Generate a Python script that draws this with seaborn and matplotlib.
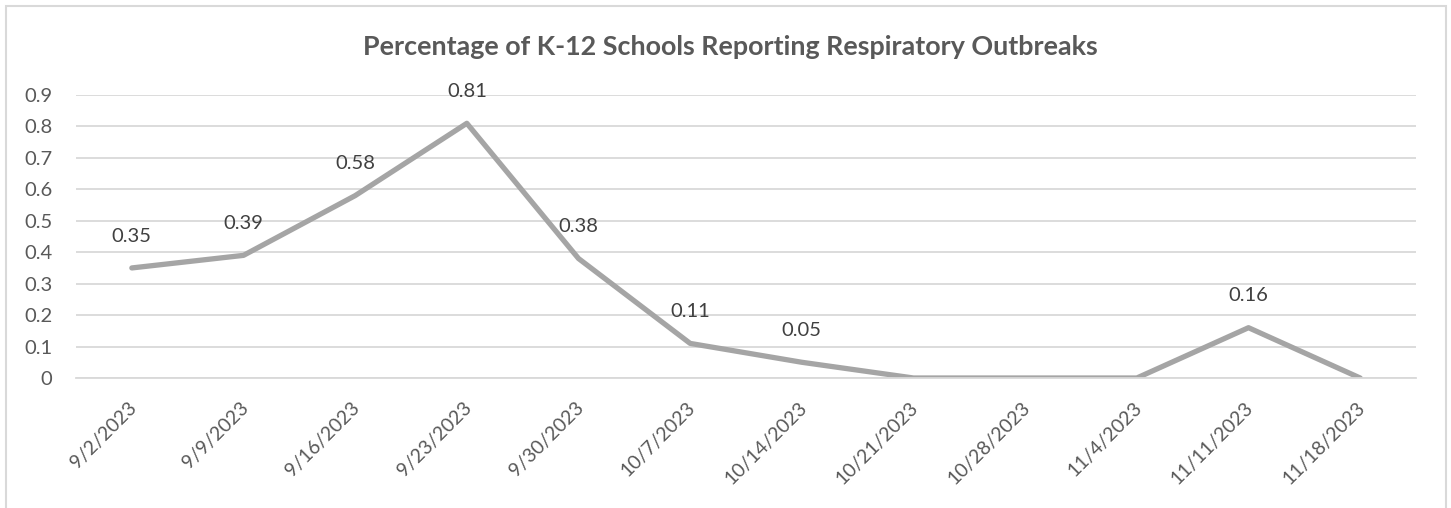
import numpy as np
import pandas as pd
import matplotlib
matplotlib.use("Agg")
import matplotlib.pyplot as plt
import matplotlib.transforms as mtransforms
from matplotlib.patches import Rectangle
from matplotlib.ticker import FixedLocator
import seaborn as sns

weeks = ["9/2/2023", "9/9/2023", "9/16/2023", "9/23/2023", "9/30/2023", "10/7/2023",
         "10/14/2023", "10/21/2023", "10/28/2023", "11/4/2023", "11/11/2023", "11/18/2023"]
pct = [0.35, 0.39, 0.58, 0.81, 0.38, 0.11, 0.05, 0, 0, 0, 0.16, 0]
labels = ["0.35", "0.39", "0.58", "0.81", "0.38", "0.11", "0.05", "", "", "", "0.16", ""]
yticks = [0, 0.1, 0.2, 0.3, 0.4, 0.5, 0.6, 0.7, 0.8, 0.9]
ytick_labels = ["0", "0.1", "0.2", "0.3", "0.4", "0.5", "0.6", "0.7", "0.8", "0.9"]
title = "Percentage of K-12 Schools Reporting Respiratory Outbreaks"

sns.set_theme(style="white")
plt.rcParams["font.family"] = ["Lato", "DejaVu Sans"]

df = pd.DataFrame({"pos": np.arange(len(weeks)), "week": weeks, "pct": pct})

fig = plt.figure(figsize=(14.51, 5.08), dpi=100)
ax = fig.add_axes([76/1451, 1-378/508, (1416-76)/1451, (378-95)/508])

# chart border
fig.patches.append(Rectangle((6/1451, -0.1), (1446-6)/1451, 1.1 - 6/508,
                             transform=fig.transFigure, fill=False,
                             edgecolor="#D9D9D9", lw=1.5, zorder=0))

sns.lineplot(data=df, x="pos", y="pct", ax=ax, color="#A5A5A5", lw=3.8,
             sort=False, solid_joinstyle="round", solid_capstyle="round")

for x, y, t in zip(df["pos"], df["pct"], labels):
    if t:
        ax.annotate(t, (x, y), xytext=(0, 23), textcoords="offset points",
                    ha="center", va="center", fontsize=14.5, color="#404040")

ax.set_xlim(-0.5, len(weeks) - 0.5)
ax.set_ylim(0, 0.9)
ax.set_yticks(yticks, ytick_labels)
ax.set_xticks(df["pos"], weeks, rotation=45, ha="right", rotation_mode="anchor")
ax.xaxis.set_minor_locator(FixedLocator(np.arange(len(weeks) + 1) - 0.5))
ax.tick_params(axis="x", which="major", length=0, pad=15, labelsize=14, labelcolor="#595959")
ax.tick_params(axis="x", which="minor", length=6, width=1.3, color="#D9D9D9", direction="out")
ax.tick_params(axis="y", length=0, pad=17, labelsize=14.5, labelcolor="#595959")
for lbl in ax.get_xticklabels():
    lbl.set_transform(lbl.get_transform() + mtransforms.ScaledTranslation(-0.04, 0, fig.dpi_scale_trans))
ax.grid(axis="y", color="#D9D9D9", lw=1.3)
ax.set_axisbelow(True)
for s in ["top", "right", "left"]:
    ax.spines[s].set_visible(False)
ax.spines["bottom"].set_color("#D9D9D9")
ax.spines["bottom"].set_linewidth(1.3)
ax.set_xlabel("")
ax.set_ylabel("")

fig.text(730/1451, 1-47/508, title, ha="center", va="center", fontsize=19.4,
         fontweight="bold", color="#595959")

fig.savefig("out.png", dpi=100)
